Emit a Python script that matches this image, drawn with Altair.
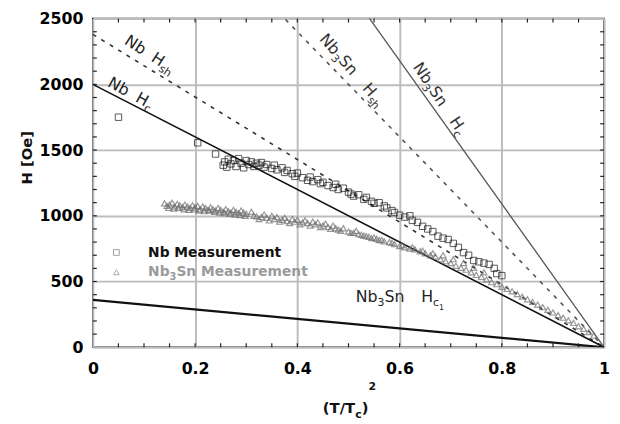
import altair as alt
import pandas as pd

# ---------------- data ----------------
nb_t = [0.050, 0.205, 0.240,
        0.255, 0.258, 0.262, 0.265, 0.270, 0.275, 0.280, 0.285, 0.290, 0.295, 0.300,
        0.305, 0.310, 0.315, 0.320, 0.325, 0.330, 0.335,
        0.340, 0.350, 0.355, 0.360, 0.370, 0.375, 0.380, 0.390, 0.395, 0.400, 0.410,
        0.420, 0.425, 0.430, 0.440, 0.445, 0.450, 0.460, 0.470, 0.475, 0.480, 0.490,
        0.500, 0.505, 0.510, 0.520, 0.530, 0.535, 0.545, 0.550, 0.560, 0.570, 0.575,
        0.585, 0.590, 0.600, 0.610, 0.620, 0.625, 0.635, 0.645, 0.655, 0.665, 0.675,
        0.685, 0.695, 0.705, 0.715, 0.725, 0.735, 0.745, 0.755, 0.765, 0.775, 0.785,
        0.790, 0.800]
nb_H = [1750, 1555, 1470,
        1385, 1410, 1370, 1430, 1395, 1420, 1375, 1435, 1400, 1365, 1420,
        1390, 1410, 1375, 1400, 1385, 1405, 1370,
        1390, 1360, 1385, 1350, 1365, 1330, 1345, 1320, 1300, 1325, 1290,
        1270, 1295, 1260, 1275, 1245, 1255, 1230, 1215, 1240, 1200, 1210,
        1180, 1165, 1150, 1160, 1125, 1140, 1110, 1095, 1100, 1075, 1060,
        1040, 1025, 1005, 990, 1000, 965, 950, 920, 900, 880, 845,
        830, 820, 790, 760, 720, 700, 660, 650, 640, 630, 600,
        560, 545]

sn_t = [0.140, 0.145, 0.150, 0.155, 0.160, 0.165, 0.170, 0.175, 0.180, 0.185,
        0.190, 0.195, 0.200, 0.205, 0.210, 0.215, 0.220, 0.225, 0.230, 0.235,
        0.240, 0.245, 0.250, 0.255, 0.260, 0.265, 0.270, 0.275, 0.280, 0.285,
        0.290, 0.295, 0.300, 0.310, 0.315, 0.320, 0.330, 0.335, 0.340, 0.350,
        0.355, 0.360, 0.370, 0.375, 0.380, 0.390, 0.395, 0.400, 0.410, 0.415,
        0.420, 0.430, 0.435, 0.440, 0.450, 0.455, 0.460, 0.470, 0.475, 0.480,
        0.490, 0.500, 0.510, 0.515, 0.520, 0.530, 0.540, 0.545, 0.550, 0.560,
        0.570, 0.580, 0.590, 0.600, 0.610, 0.620, 0.630, 0.640, 0.650, 0.660,
        0.670, 0.680, 0.690, 0.700, 0.710, 0.720, 0.730, 0.740, 0.750, 0.760,
        0.770, 0.780, 0.790, 0.800, 0.810, 0.820, 0.830, 0.840, 0.850, 0.860,
        0.870, 0.880, 0.890, 0.900, 0.910, 0.920, 0.930, 0.940, 0.950, 0.960,
        0.970, 0.980,
        0.148, 0.158, 0.168, 0.178, 0.188, 0.198, 0.208, 0.218, 0.228, 0.238,
        0.248, 0.258, 0.268, 0.278, 0.288, 0.298, 0.325, 0.345, 0.365, 0.385,
        0.405, 0.425, 0.445, 0.465, 0.485, 0.505, 0.525, 0.535, 0.555, 0.565,
        0.585, 0.605, 0.625, 0.645, 0.665, 0.685, 0.705, 0.725, 0.745, 0.765]
sn_H = [1095, 1075, 1085, 1100, 1070, 1090, 1080, 1065, 1085, 1070,
        1060, 1080, 1065, 1075, 1050, 1070, 1060, 1045, 1065, 1050,
        1040, 1060, 1045, 1030, 1050, 1035, 1025, 1045, 1030, 1020,
        1040, 1025, 1015, 1030, 1000, 995, 990, 1010, 985, 1000,
        975, 990, 970, 985, 960, 975, 955, 970, 950, 965,
        945, 955, 935, 950, 925, 940, 915, 925, 905, 895,
        905, 880, 870, 885, 860, 850, 840, 830, 835, 815,
        805, 800, 785, 770, 760, 750, 745, 730, 715, 700,
        690, 670, 655, 640, 620, 605, 590, 570, 550, 535,
        515, 495, 480, 460, 445, 425, 405, 385, 365, 345,
        325, 305, 285, 265, 245, 225, 205, 185, 160, 140,
        115, 90,
        1060, 1055, 1060, 1050, 1045, 1050, 1040, 1035, 1040, 1030,
        1025, 1020, 1015, 1010, 1005, 1000, 975, 965, 955, 945,
        935, 925, 915, 900, 885, 870, 855, 845, 825, 815,
        795, 775, 760, 735, 715, 700, 670, 640, 605, 570]

# theoretical field lines: straight in (T/Tc)^2
line_names = ["Nb Hsh", "Nb Hc", "Nb3Sn Hsh", "Nb3Sn Hc", "Nb3Sn Hc1"]
line_H0 = [2380, 2000, 4000, 5450, 360]

x_major = [0, 0.2, 0.4, 0.6, 0.8, 1.0]
y_major = [0, 500, 1000, 1500, 2000, 2500]
x_minor = [0.05, 0.10, 0.15, 0.20, 0.25, 0.30, 0.35, 0.40, 0.45, 0.50,
           0.55, 0.60, 0.65, 0.70, 0.75, 0.80, 0.85, 0.90, 0.95]
y_minor = [100, 200, 300, 400, 500, 600, 700, 800, 900, 1000, 1100, 1200,
           1300, 1400, 1500, 1600, 1700, 1800, 1900, 2000, 2100, 2200, 2300, 2400]

# ---------------- styling ----------------
W, HGT = 518, 333
FONT = "DejaVu Sans"
line_style = {
    "Nb Hsh":    dict(color="#333333", strokeWidth=1.6, strokeDash=[4, 6]),
    "Nb Hc":     dict(color="#111111", strokeWidth=1.6),
    "Nb3Sn Hsh": dict(color="#555555", strokeWidth=1.6, strokeDash=[4, 6]),
    "Nb3Sn Hc":  dict(color="#555555", strokeWidth=1.3),
    "Nb3Sn Hc1": dict(color="#111111", strokeWidth=2.2),
}

xs = alt.Scale(domain=[0, 1], nice=False, zero=False)
ys = alt.Scale(domain=[0, 2500], nice=False, zero=False)
axis_common = dict(title=None, grid=True, gridColor="#bdbdbd", gridWidth=2,
                   ticks=False, domain=False, labelFont=FONT, labelFontWeight="bold",
                   labelFontSize=16, labelColor="black", labelFlush=False,
                   labelOverlap=False)
xaxis = alt.Axis(values=x_major, format="~g", labelPadding=14, **axis_common)
yaxis = alt.Axis(values=y_major, format="d", labelPadding=10, **axis_common)


def X(f):
    return alt.X(f, type="quantitative", scale=xs, axis=xaxis)


def Y(f):
    return alt.Y(f, type="quantitative", scale=ys, axis=yaxis)


REG = {'N': 0.748, 'b': 0.635, '3': 0.636, 'S': 0.635, 'n': 0.634, ' ': 0.318,
       'H': 0.752, 's': 0.521, 'h': 0.634, 'c': 0.550, '1': 0.636}
BOLD = {'N': 0.837, 'b': 0.716, '3': 0.696, 'S': 0.720, 'n': 0.712, ' ': 0.348,
        '(': 0.457, 'T': 0.682, '/': 0.365, 'c': 0.593, ')': 0.457, '2': 0.696,
        'M': 0.995, 'e': 0.678, 'a': 0.675, 's': 0.595, 'u': 0.712, 'r': 0.493,
        'm': 1.042, 't': 0.478}


def tw(s, size, bold):
    m = BOLD if bold else REG
    return sum(m.get(ch, 0.6) for ch in s) * size


def pieces_layers(px, py, angle, color, pieces, bold=False, pixel=False):
    out = []
    dx = 0.0
    for p in pieces:
        if p[0] == "_gap":
            dx += p[1]
            continue
        txt, size, dy = p
        df = pd.DataFrame({"t": [px], "H": [py], "label": [txt]})
        if pixel:
            enc = dict(x=alt.value(px), y=alt.value(py), text="label:N")
        else:
            enc = dict(x=X("t"), y=Y("H"), text="label:N")
        mk = alt.Chart(df).mark_text(
            align="left", baseline="alphabetic", angle=angle, dx=dx, dy=dy,
            font=FONT, fontSize=size, fontWeight="bold" if bold else "normal",
            color=color)
        out.append(mk.encode(**enc))
        dx += tw(txt, size, bold)
    return out


layers = []

# theoretical lines
for name, h0 in zip(line_names, line_H0):
    df = pd.DataFrame({"t": [0.0, 1.0], "H": [h0, 0]})
    layers.append(alt.Chart(df).mark_line(clip=True, **line_style[name])
                  .encode(x=X("t"), y=Y("H")))

# measurements
sn_df = pd.DataFrame({"t": sn_t, "H": sn_H})
nb_df = pd.DataFrame({"t": nb_t, "H": nb_H})
layers.append(alt.Chart(sn_df).mark_point(shape="triangle-up", filled=False, size=36,
                                          color="#6e6e6e", strokeWidth=1.2)
              .encode(x=X("t"), y=Y("H")))
layers.append(alt.Chart(nb_df).mark_point(shape="square", filled=False, size=42,
                                          color="#111111", strokeWidth=1)
              .encode(x=X("t"), y=Y("H")))

# inward minor ticks on all four sides
xm = pd.DataFrame({"v": x_minor})
ym = pd.DataFrame({"v": y_minor})
tick_style = dict(color="#222222", strokeWidth=1.2)
layers.append(alt.Chart(xm).mark_rule(**tick_style).encode(
    x=X("v"), y=alt.value(HGT), y2=alt.value(HGT - 4)))
layers.append(alt.Chart(xm).mark_rule(**tick_style).encode(
    x=X("v"), y=alt.value(0), y2=alt.value(4)))
layers.append(alt.Chart(ym).mark_rule(**tick_style).encode(
    y=Y("v"), x=alt.value(0), x2=alt.value(4)))
layers.append(alt.Chart(ym).mark_rule(**tick_style).encode(
    y=Y("v"), x=alt.value(W), x2=alt.value(W - 4)))

# line annotations
GAP_NB = ("_gap", 10.0)
GAP_SN = ("_gap", 17.0)
layers += pieces_layers(0.060, 2312, 33, "#222222",
                        [("Nb", 16, 0), GAP_NB, ("H", 16, 0), ("sh", 11, 4)])
layers += pieces_layers(0.027, 1990, 29, "#222222",
                        [("Nb", 16, 0), GAP_NB, ("H", 16, 0), ("c", 11, 4)])
layers += pieces_layers(0.442, 2342, 49, "#333333",
                        [("Nb", 16, 0), ("3", 11, 4), ("Sn", 16, 0), GAP_SN,
                         ("H", 16, 0), ("sh", 11, 4)])
layers += pieces_layers(0.625, 2132, 56, "#333333",
                        [("Nb", 16, 0), ("3", 11, 4), ("Sn", 16, 0), GAP_SN,
                         ("H", 16, 0), ("c", 11, 4)])
layers += pieces_layers(0.514, 345, 0, "#222222",
                        [("Nb", 16, 0), ("3", 11, 4), ("Sn", 16, 0), GAP_SN,
                         ("H", 16, 0), ("c", 11, 4), ("1", 8, 8)])

# legend (inside the plot)
leg_sym = pd.DataFrame({"t": [0.046], "H": [721]})
layers.append(alt.Chart(leg_sym).mark_point(shape="square", filled=False, size=34,
                                            color="#777777", strokeWidth=1)
              .encode(x=X("t"), y=Y("H")))
leg_sym2 = pd.DataFrame({"t": [0.046], "H": [571]})
layers.append(alt.Chart(leg_sym2).mark_point(shape="triangle-up", filled=False, size=34,
                                             color="#888888", strokeWidth=1)
              .encode(x=X("t"), y=Y("H")))
layers += pieces_layers(0.108, 683, 0, "#111111",
                        [("Nb Measurement", 14, 0)], bold=True)
layers += pieces_layers(0.108, 541, 0, "#9a9a9a",
                        [("Nb", 14, 0), ("3", 10, 4), ("Sn Measurement", 14, 0)], bold=True)

# axis titles (built from text pieces for sub/superscripts)
layers += pieces_layers(233, 400, 0, "#111111",
                        [("(T/T", 15, 0), ("c", 11, 5), (")", 15, 0), ("2", 11, -24)],
                        bold=True, pixel=True)
ytitle = pd.DataFrame({"label": ["H [Oe]"]})
layers.append(alt.Chart(ytitle).mark_text(
    align="center", baseline="alphabetic", angle=270, font=FONT, fontSize=15,
    fontWeight="bold", color="#111111").encode(
    x=alt.value(-62), y=alt.value(141), text="label:N"))

chart = alt.layer(*layers).properties(
    width=W, height=HGT,
    padding={"left": 86, "top": 8, "right": 8, "bottom": 75},
    autosize=alt.AutoSizeParams(type="none"),
).configure_view(stroke="#111111", strokeWidth=1.6)

chart.save("out.html", embed_options={"renderer": "svg", "actions": False})
